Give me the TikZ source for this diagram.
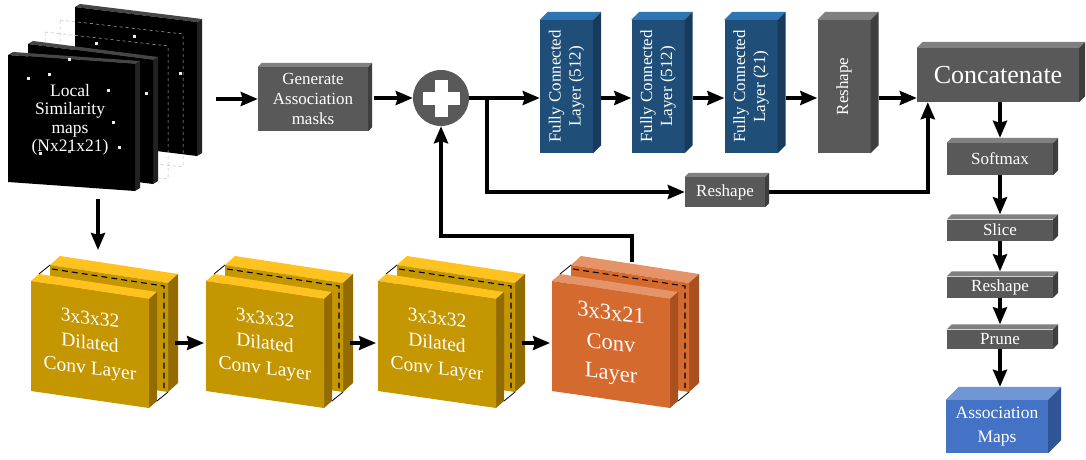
\documentclass[tikz,border=0pt]{standalone}
\usepackage{fontspec}
\setmainfont{Liberation Serif}
\usetikzlibrary{arrows.meta,calc}

\definecolor{grayF}{RGB}{89,89,89}
\definecolor{grayT}{RGB}{128,128,128}
\definecolor{grayS}{RGB}{62,62,62}
\definecolor{blueF}{RGB}{31,78,121}
\definecolor{blueT}{RGB}{46,117,182}
\definecolor{blueS}{RGB}{24,58,92}
\definecolor{mapF}{RGB}{68,114,196}
\definecolor{mapT}{RGB}{112,150,214}
\definecolor{mapS}{RGB}{47,85,151}
\definecolor{goldF}{RGB}{196,150,0}
\definecolor{goldT}{RGB}{255,194,30}
\definecolor{goldS}{RGB}{146,108,0}
\definecolor{rustF}{RGB}{212,106,46}
\definecolor{rustT}{RGB}{228,148,104}
\definecolor{rustS}{RGB}{170,80,30}
\definecolor{slabside}{RGB}{34,34,34}
\definecolor{slabtop}{RGB}{70,70,70}

% front face as a named node, top and side faces drawn from its anchors
\newcommand{\cuboid}[8]{%
  \node[face, fill=#6F, minimum width=#3, minimum height=#4, #7] (#1) at #2 {#8};
  \fill[#6T] (#1.north west) -- (#1.north east) -- ++(#5,-#5)
        -- ([shift={(#5,-#5)}]#1.north west) -- cycle;
  \fill[#6S] (#1.north east) -- ++(#5,-#5)
        -- ([shift={(#5,-#5)}]#1.south east) -- (#1.south east) -- cycle;
}

% one black map of the input stack: top-left x, y, width, height, slope
\newcommand{\simslab}[5]{%
  \fill[slabside] (#1+#3,#2+#5) -- ++(5,-3) -- ++(0,#4) -- (#1+#3,#2+#5+#4) -- cycle;
  \fill[slabtop] (#1,#2) -- (#1+#3,#2+#5) -- ++(5,-3) -- (#1+5,#2-3) -- cycle;
  \fill[black] (#1,#2) -- (#1+#3,#2+#5) -- (#1+#3,#2+#5+#4) -- (#1,#2+#4) -- cycle;
}
\newcommand{\simframe}[5]{%
  \draw[dashed, gray!55, line width=0.5pt] (#1,#2) -- (#1+#3,#2+#5)
        -- (#1+#3,#2+#5+#4) -- (#1,#2+#4) -- cycle;
}

% one slab of a convolution block, front face top-left at the origin
\newcommand{\convslab}[3]{%
  \fill[#1T] (0,0) -- (118,18) -- ++(#2,#3) -- (#2,#3) -- cycle;
  \fill[#1S] (118,18) -- ++(#2,#3) -- (118+#2,127+#3) -- (118,127) -- cycle;
  \fill[#1F] (0,0) -- (118,18) -- (118,127) -- (0,110) -- cycle;
}
% convolution block: name, x, y, colour prefix, font, text
\newcommand{\convblock}[6]{%
  \begin{scope}[shift={(#2+19,#3-16)}]\convslab{#4}{10}{-9}\end{scope}
  \draw[line width=1.1pt, dash pattern=on 6pt off 4pt]
        (#2+21,#3-12) -- (#2+133,#3+5) -- (#2+133,#3+107);
  \begin{scope}[shift={(#2,#3)}]\convslab{#4}{8}{-7}\end{scope}
  \draw[line width=0.8pt] (#2+8,#3-7) -- (#2+19,#3-16);
  \draw[line width=0.8pt] (#2+126,#3+120) -- (#2+137,#3+111);
  \node[face, font=#5, yslant=-0.12, transform shape] (#1) at (#2+59,#3+64) {#6};
  \coordinate (#1-in) at (#2-2,#3+62);
  \coordinate (#1-out) at (#2+144,#3+62);
}

\begin{document}
\begin{tikzpicture}[x=1pt,y=-1pt,
  face/.style={inner sep=0pt, text=white, align=center},
  arr/.style={line width=3.5pt, -{Stealth[length=17pt,width=14pt,inset=2pt]}},
  fs17/.style={font=\fontsize{17}{20}\selectfont},
  fsrot/.style={rotate=90, face, font=\fontsize{17}{20}\selectfont},
  dot/.style={fill=white!85!gray},
]
\useasboundingbox (0,0) rectangle (1086,460);
\fill[white] (0,0) rectangle (1086,460);

% ---- stack of local similarity maps
\simslab{75}{7}{122}{134}{15}
\simframe{60}{20}{123}{133}{14}
\simframe{45}{32}{123}{133}{14}
\simslab{28}{44}{125}{124}{16}
\simslab{8}{55}{127}{127}{9}
\foreach \px/\py in {95/42,133/35,179/72,68/58,145/92,27/77,48/73,107/89,112/121,118/146,39/152}
  \fill[dot] (\px,\py) rectangle ++(3,3);
\fill[gray!70] (68,150) rectangle ++(3,3);
\node[face, font=\fontsize{17.5}{18.5}\selectfont] (lsm) at (70,120)
  {Local\\Similarity\\maps\\(Nx21x21)};
\coordinate (lsm-out) at (216,99);
\coordinate (lsm-down) at (98,199);
\coordinate (c1-top) at (98,250);

% ---- mask branch
\cuboid{gen}{(313,99)}{110pt}{64pt}{4}{gray}{fs17}{Generate\\Association\\masks}
\node[circle, fill=grayF, minimum size=56pt, inner sep=0pt] (plus) at (441,98) {};
\fill[white] ($(plus)+(-18.5,-6.5)$) rectangle ($(plus)+(18.5,6.5)$);
\fill[white] ($(plus)+(-6.5,-18.5)$) rectangle ($(plus)+(6.5,18.5)$);

% ---- fully connected head
\cuboid{fc1}{(566.5,86.5)}{53pt}{133pt}{8}{blue}{}{}
\cuboid{fc2}{(658,86.5)}{53pt}{133pt}{8}{blue}{}{}
\cuboid{fc3}{(751,86.5)}{53pt}{133pt}{8}{blue}{}{}
\cuboid{rsv}{(844,86.5)}{53pt}{133pt}{8}{gray}{}{}
\node[fsrot] (fc1-txt) at (fc1.center) {Fully Connected\\Layer (512)};
\node[fsrot] (fc2-txt) at (fc2.center) {Fully Connected\\Layer (512)};
\node[fsrot] (fc3-txt) at (fc3.center) {Fully Connected\\Layer (21)};
\node[fsrot] (rsv-txt) at (rsv.center) {Reshape};

\cuboid{rsh}{(725,192)}{80pt}{30pt}{4}{gray}{fs17}{Reshape}
\cuboid{concat}{(998,75)}{162pt}{54pt}{6}{gray}{font=\fontsize{26}{30}\selectfont}{Concatenate}

% ---- output column
\cuboid{softmax}{(1000,159)}{106pt}{32pt}{5}{gray}{fs17}{Softmax}
\cuboid{slice}{(1000,230)}{106pt}{21pt}{5}{gray}{fs17}{Slice}
\cuboid{rs2}{(1000,287)}{106pt}{21pt}{5}{gray}{fs17}{Reshape}
\cuboid{prune}{(1000,339)}{106pt}{19pt}{5}{gray}{fs17}{Prune}
\cuboid{assoc}{(997,426.5)}{102pt}{53pt}{13}{map}{font=\fontsize{17.5}{24}\selectfont}{Association\\Maps}

% ---- convolution blocks
\convblock{c1}{31}{281}{gold}{\fontsize{19.5}{25}\selectfont}{3x3x32\\Dilated\\Conv Layer}
\convblock{c2}{206}{281}{gold}{\fontsize{19.5}{25}\selectfont}{3x3x32\\Dilated\\Conv Layer}
\convblock{c3}{378}{281}{gold}{\fontsize{19.5}{25}\selectfont}{3x3x32\\Dilated\\Conv Layer}
\convblock{c4}{552}{281}{rust}{\fontsize{22.5}{30}\selectfont}{3x3x21\\Conv\\Layer}
\coordinate (fb) at (632,262);
\coordinate (fb-turn) at (632,236);
\coordinate (split) at (487,98);

% ---- connectors
\draw[arr] (lsm-out) -- (gen.west |- lsm-out);
\draw[arr] (lsm-down) -- (c1-top);
\draw[arr] ($(gen.east |- plus)+(6,0)$) -- (plus.west);
\draw[arr] (plus.east) -- (fc1.west |- plus);
\draw[arr] ($(fc1.east |- plus)+(8,0)$) -- (fc2.west |- plus);
\draw[arr] ($(fc2.east |- plus)+(8,0)$) -- (fc3.west |- plus);
\draw[arr] ($(fc3.east |- plus)+(8,0)$) -- (rsv.west |- plus);
\draw[arr] ($(rsv.east |- plus)+(8,0)$) -- (concat.west |- plus);
\draw[arr] (split) |- (rsh.west);
\draw[arr] ($(rsh.east)+(4,0)$) -| ($(concat.south west)+(11,0)$);
\draw[arr] (softmax.north |- concat.south) -- ($(softmax.north)+(0,-5)$);
\draw[arr] (softmax.south) -- ($(slice.north)+(0,-5)$);
\draw[arr] (slice.south) -- ($(rs2.north)+(0,-5)$);
\draw[arr] (rs2.south) -- ($(prune.north)+(0,-5)$);
\draw[arr] (prune.south) -- ($(prune.south |- assoc.north)+(0,-13)$);
\draw[arr] (c1-out) -- (c2-in);
\draw[arr] (c2-out) -- (c3-in);
\draw[arr] (c3-out) -- (c4-in);
\draw[arr] (fb) -- (fb-turn) -| (plus.south);
\end{tikzpicture}
\end{document}
